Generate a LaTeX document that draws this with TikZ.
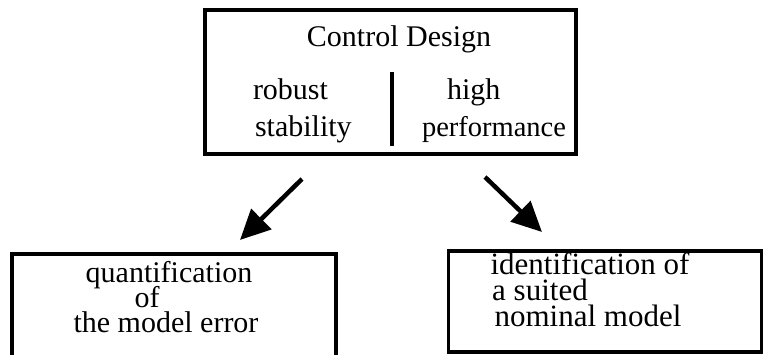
\documentclass[tikz,border=0pt]{standalone}
\usepackage{fontspec}
\setmainfont{Liberation Serif}
\usetikzlibrary{arrows.meta}
\begin{document}
\begin{tikzpicture}[x=1pt,y=1pt,
  box/.style={draw,line width=3.2pt,inner sep=0pt,outer sep=0pt,rectangle},
  txt/.style={inner sep=0pt,outer sep=0pt,font=\fontsize{30}{30}\selectfont},
  bigtxt/.style={inner sep=0pt,outer sep=0pt,font=\fontsize{31}{31}\selectfont},
  bigarrow/.style={line width=4.5pt,-{Triangle[length=30pt,width=28pt]}}]
\clip (0,0) rectangle (764,354);
\fill[white] (0,0) rectangle (764,354);
% boxes
\node[box,minimum width=371,minimum height=144] (ctrl) at (390.5,272) {};
\node[box,minimum width=324,minimum height=130] (quant) at (174,35) {};
\node[box,minimum width=313,minimum height=101] (ident) at (605,52.5) {};
% top box texts
\node[txt,anchor=base] (cd) at (399,307) {Control Design};
\node[txt,anchor=base west] (rob) at (253,254) {robust};
\node[txt,anchor=base west] (stab) at (255,217) {stability};
\node[txt,anchor=base west] (high) at (447,254) {high};
\node[txt,anchor=base west,font=\fontsize{28.5}{28.5}\selectfont] (perf) at (422,217) {performance};
\coordinate (divtop) at (392,282);
\coordinate (divbot) at (392,208);
\draw[line width=3.2pt] (divtop) -- (divbot);
% left bottom texts
\node[txt,anchor=base] (q1) at (169,71) {quantification};
\node[txt,anchor=base] (q2) at (147,47) {of};
\node[txt,anchor=base] (q3) at (166,22) {the model error};
% right bottom texts
\node[bigtxt,anchor=base] (i1) at (590,79) {identification of};
\node[bigtxt,anchor=base] (i2) at (540,54) {a suited};
\node[bigtxt,anchor=base] (i3) at (588,28) {nominal model};
% arrows
\coordinate (la) at (302,175);
\coordinate (lb) at (240,114);
\coordinate (ra) at (485,177);
\coordinate (rb) at (542,122);
\draw[bigarrow] (la) -- (lb);
\draw[bigarrow] (ra) -- (rb);
\end{tikzpicture}
\end{document}
